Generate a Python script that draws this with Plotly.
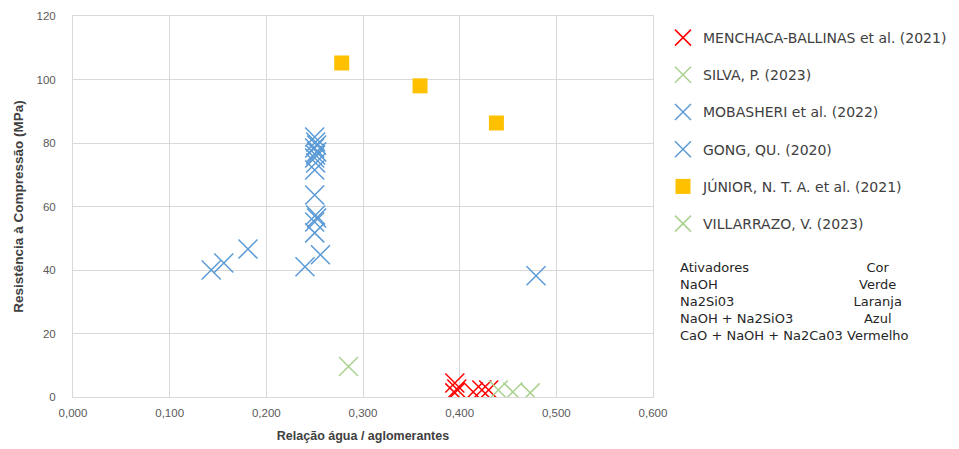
import plotly.graph_objects as go

# ---- data ----
menchaca_x = [0.395, 0.395, 0.397, 0.414, 0.423, 0.430]
menchaca_y = [4.4, 1.3, 2.5, 1.6, 2.2, 2.2]

silva_x = [0.285]
silva_y = [9.6]

mobasheri_x = [0.250, 0.251, 0.252, 0.250, 0.252, 0.251, 0.250, 0.251, 0.250, 0.250, 0.251, 0.252, 0.250, 0.250]
mobasheri_y = [81.9, 80.3, 79.4, 78.4, 77.2, 76.2, 75.3, 73.7, 71.5, 63.6, 57.3, 56.4, 55.1, 51.7]

gong_x = [0.143, 0.156, 0.181, 0.240, 0.256, 0.479]
gong_y = [40.0, 42.2, 46.6, 41.0, 44.8, 38.2]

junior_x = [0.278, 0.359, 0.438]
junior_y = [105.2, 98.0, 86.3]

villarrazo_x = [0.440, 0.455, 0.473]
villarrazo_y = [2.2, 1.6, 1.3]

x_ticks = [0.0, 0.1, 0.2, 0.3, 0.4, 0.5, 0.6]
x_tick_labels = ["0,000", "0,100", "0,200", "0,300", "0,400", "0,500", "0,600"]
y_ticks = [0, 20, 40, 60, 80, 100, 120]

activators = ["Ativadores", "NaOH", "Na2Si03", "NaOH + Na2SiO3", "CaO + NaOH + Na2Ca03"]
colours_pt = ["Cor", "Verde", "Laranja", "Azul", "Vermelho"]

# ---- styles ----
RED = "#FF0000"
GREEN = "#A9D18E"
BLUE = "#5B9BD5"
ORANGE = "#FFC000"

fig = go.Figure()

def xtrace(name, xs, ys, color, group):
    fig.add_trace(go.Scatter(
        x=xs, y=ys, mode="markers", name=name, legendgroup=group,
        marker=dict(symbol="x-thin-open", size=19, color=color,
                    line=dict(color=color, width=1.5)),
    ))

xtrace("MENCHACA-BALLINAS et al. (2021)", menchaca_x, menchaca_y, RED, "g1")
xtrace("SILVA, P. (2023)", silva_x, silva_y, GREEN, "g2")
xtrace("MOBASHERI et al. (2022)", mobasheri_x, mobasheri_y, BLUE, "g3")
xtrace("GONG, QU. (2020)", gong_x, gong_y, BLUE, "g4")
fig.add_trace(go.Scatter(
    x=junior_x, y=junior_y, mode="markers", name="JÚNIOR, N. T. A. et al. (2021)",
    legendgroup="g5",
    marker=dict(symbol="square", size=15, color=ORANGE),
))
xtrace("VILLARRAZO, V. (2023)", villarrazo_x, villarrazo_y, GREEN, "g6")

grid = "#D9D9D9"
tickfont = dict(family="Liberation Sans, Arial, sans-serif", size=11.5, color="#595959")
xtitlefont = dict(family="Liberation Sans, Arial, sans-serif", size=12.5, color="#404040")
ytitlefont = dict(family="Liberation Sans, Arial, sans-serif", size=13.5, color="#404040")

fig.update_xaxes(
    range=[0, 0.6], tickvals=x_ticks, ticktext=x_tick_labels,
    showgrid=True, gridcolor=grid, gridwidth=1, zeroline=False,
    showline=True, linecolor=grid, mirror=True,
    tickfont=tickfont, ticks="", ticklabelstandoff=5,
    title=dict(text="<b>Relação água / aglomerantes</b>", font=xtitlefont, standoff=13),
    automargin=False,
)
fig.update_yaxes(
    range=[0, 120], tickvals=y_ticks,
    showgrid=True, gridcolor=grid, gridwidth=1, zeroline=False,
    showline=True, linecolor=grid, mirror=True,
    tickfont=tickfont, ticks="", ticklabelstandoff=14,
    title=dict(text="<b>Resistência à Compressão (MPa)</b>", font=ytitlefont, standoff=9),
    automargin=False,
)

OFF = 8  # page body margin
W, H = 959 - OFF, 449 - OFF
PL, PR, PT, PB = 73, 653, 16, 397  # plot area in page pixels
L = PL - OFF
T = PT - OFF
R = W - (PR - OFF)
B = H - (PB - OFF)
pw = PR - PL
ph = PB - PT

def px_x(p):
    return (p - PL) / pw

def px_y(p):
    return (PB - p) / ph

fig.update_layout(
    width=W, height=H,
    margin=dict(l=L, r=R, t=T, b=B, autoexpand=False),
    paper_bgcolor="white", plot_bgcolor="white",
    showlegend=True,
    legend=dict(
        x=px_x(663), y=px_y(22), xanchor="left", yanchor="top",
        font=dict(family="DejaVu Sans, sans-serif", size=14, color="#404040"),
        tracegroupgap=16, bgcolor="rgba(0,0,0,0)",
    ),
)

tabfont = dict(family="DejaVu Sans, sans-serif", size=13, color="#262626")
fig.add_annotation(
    xref="paper", yref="paper", x=px_x(678), y=px_y(258),
    xanchor="left", yanchor="top", showarrow=False, align="left",
    text="<br>".join(activators), font=tabfont,
)
fig.add_annotation(
    xref="paper", yref="paper", x=px_x(878), y=px_y(258),
    xanchor="center", yanchor="top", showarrow=False, align="center",
    text="<br>".join(colours_pt), font=tabfont,
)

fig.write_html("out.html")
